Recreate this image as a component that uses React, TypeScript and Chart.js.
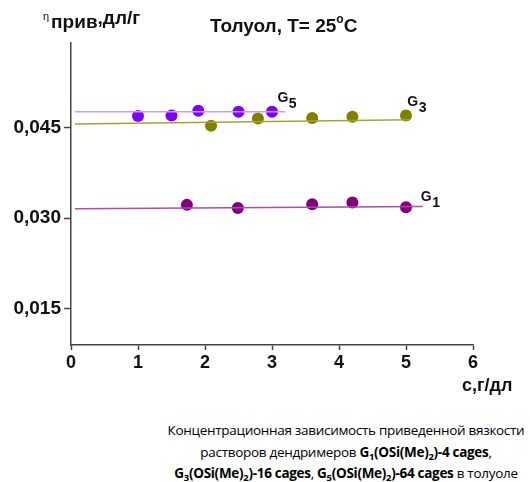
import React, { useEffect, useRef } from "react";
import { Chart, registerables } from "chart.js";
Chart.register(...registerables);

// Data
const cG5 = [1.0, 1.5, 1.9, 2.5, 3.0];
const etaG5 = [0.0469, 0.0470, 0.0478, 0.0476, 0.0476];
const cG3 = [2.09, 2.79, 3.6, 4.2, 5.0];
const etaG3 = [0.0453, 0.0465, 0.0466, 0.0468, 0.0470];
const cG1 = [1.73, 2.49, 3.6, 4.2, 5.0];
const etaG1 = [0.0322, 0.0317, 0.0323, 0.0326, 0.0318];

// Linear fits (endpoints)
const fitG5X = [0.06, 3.2];
const fitG5Y = [0.0476, 0.0476];
const fitG3X = [0.06, 5.05];
const fitG3Y = [0.0456, 0.0463];
const fitG1X = [0.06, 5.25];
const fitG1Y = [0.03155, 0.03193];

const yTicks = [0.015, 0.03, 0.045];
const xTicks = [0, 1, 2, 3, 4, 5, 6];

const pts = (xs: number[], ys: number[]) => xs.map((x, i) => ({ x, y: ys[i] }));

const FONT = "'Liberation Sans', Arial, sans-serif";

const textPlugin = {
  id: "texts",
  afterDraw(chart: any) {
    const ctx = chart.ctx;
    const xs = chart.scales.x;
    const ys = chart.scales.y;
    ctx.save();
    ctx.fillStyle = "#111";
    ctx.textBaseline = "alphabetic";
    ctx.textAlign = "left";
    // Title
    ctx.font = `bold 19px ${FONT}`;
    let tx = 210;
    const ty = 32;
    const t1 = "Толуол, T= 25";
    ctx.fillText(t1, tx, ty);
    tx += ctx.measureText(t1).width;
    ctx.font = `bold 12px ${FONT}`;
    ctx.fillText("o", tx, ty - 9);
    tx += ctx.measureText("o").width;
    ctx.font = `bold 19px ${FONT}`;
    ctx.fillText("C", tx, ty);
    // Y label
    let lx = 43;
    ctx.font = `11px ${FONT}`;
    ctx.fillText("η", lx, 20);
    lx += ctx.measureText("η").width + 2;
    ctx.font = `bold 19px ${FONT}`;
    ctx.fillText("прив", lx, 28);
    lx += ctx.measureText("прив").width;
    ctx.fillText(",дл/г", lx, 24);
    // X label
    ctx.font = `bold 18px ${FONT}`;
    ctx.fillText("с,г/дл", 462, 391);
    // Series labels
    const lab = (x: number, y: number, g: string, n: string, dx: number, dy: number) => {
      const px = xs.getPixelForValue(x) + dx;
      const py = ys.getPixelForValue(y) + dy;
      ctx.font = `bold 14px ${FONT}`;
      ctx.fillText(g, px, py);
      const w = ctx.measureText(g).width;
      ctx.fillText(n, px + w + 0.5, py + 6);
    };
    lab(fitG5X[1], fitG5Y[1], "G", "5", -8, -10);
    lab(fitG3X[1], fitG3Y[1], "G", "3", -2, -14);
    lab(fitG1X[1], fitG1Y[1], "G", "1", -2, -6);
    ctx.restore();
  },
};

export default function App() {
  const ref = useRef<HTMLCanvasElement>(null);
  useEffect(() => {
    document.body.style.margin = "0";
    const lineDs = (xs: number[], ys: number[], color: string) => ({
      type: "line" as const,
      data: pts(xs, ys),
      borderColor: color,
      borderWidth: 1.5,
      pointRadius: 0,
      showLine: true,
      fill: false,
    });
    const ptDs = (xs: number[], ys: number[], color: string) => ({
      type: "scatter" as const,
      data: pts(xs, ys),
      backgroundColor: color,
      borderColor: color,
      pointRadius: 6,
      borderWidth: 0,
    });
    const chart = new Chart(ref.current!, {
      type: "scatter",
      data: {
        datasets: [
          lineDs(fitG5X, fitG5Y, "#c99bff"),
          lineDs(fitG3X, fitG3Y, "#a4a436"),
          lineDs(fitG1X, fitG1Y, "#b048b0"),
          ptDs(cG5, etaG5, "#8000ff"),
          ptDs(cG3, etaG3, "#808000"),
          ptDs(cG1, etaG1, "#800080"),
        ] as any,
      },
      options: {
        animation: false,
        responsive: false,
        layout: { padding: { top: 43, right: 57, left: 0, bottom: 0 } },
        plugins: { legend: { display: false }, tooltip: { enabled: false }, title: { display: false } },
        scales: {
          x: {
            type: "linear",
            min: 0,
            max: 6,
            afterBuildTicks: (s: any) => { s.ticks = xTicks.map((v) => ({ value: v })); },
            afterFit: (s: any) => { s.height = 50; },
            border: { display: true, color: "#444", width: 1.5 },
            grid: { drawOnChartArea: false, drawTicks: true, tickLength: 5, tickColor: "#444", tickWidth: 1.5 },
            ticks: { font: { family: FONT, weight: "bold", size: 18 }, color: "#111", padding: 2 },
          },
          y: {
            type: "linear",
            min: 0.009,
            max: 0.059,
            afterBuildTicks: (s: any) => { s.ticks = yTicks.map((v) => ({ value: v })); },
            afterFit: (s: any) => { s.width = 71; },
            border: { display: true, color: "#444", width: 1.5 },
            grid: { drawOnChartArea: false, drawTicks: true, tickLength: 7, tickColor: "#444", tickWidth: 1.5 },
            ticks: {
              font: { family: FONT, weight: "bold", size: 19 },
              color: "#111",
              padding: 3,
              callback: (v: any) => Number(v).toFixed(3).replace(".", ","),
            },
          },
        },
      } as any,
      plugins: [textPlugin],
    });
    return () => chart.destroy();
  }, []);

  const sub = { fontSize: "9.5px", verticalAlign: "-3px", lineHeight: 0 } as React.CSSProperties;
  return (
    <div style={{ position: "relative", width: 530, height: 482, background: "#fff", overflow: "hidden" }}>
      <canvas ref={ref} width={530} height={395} style={{ display: "block" }} />
      <div
        style={{
          position: "absolute",
          left: 160,
          top: 420,
          width: 372,
          textAlign: "center",
          fontFamily: "'Open Sans', sans-serif",
          fontSize: "13.5px",
          letterSpacing: "-0.3px",
          lineHeight: "21.5px",
          whiteSpace: "nowrap",
          color: "#000",
        }}
      >
        Концентрационная зависимость приведенной вязкости
        <br />
        растворов дендримеров <b>G<sub style={sub}>1</sub>(OSi(Me)<sub style={sub}>2</sub>)-4 cages</b>,
        <br />
        <b>G<sub style={sub}>3</sub>(OSi(Me)<sub style={sub}>2</sub>)-16 cages</b>, <b>G<sub style={sub}>5</sub>(OSi(Me)<sub style={sub}>2</sub>)-64 cages</b> в толуоле
      </div>
    </div>
  );
}
